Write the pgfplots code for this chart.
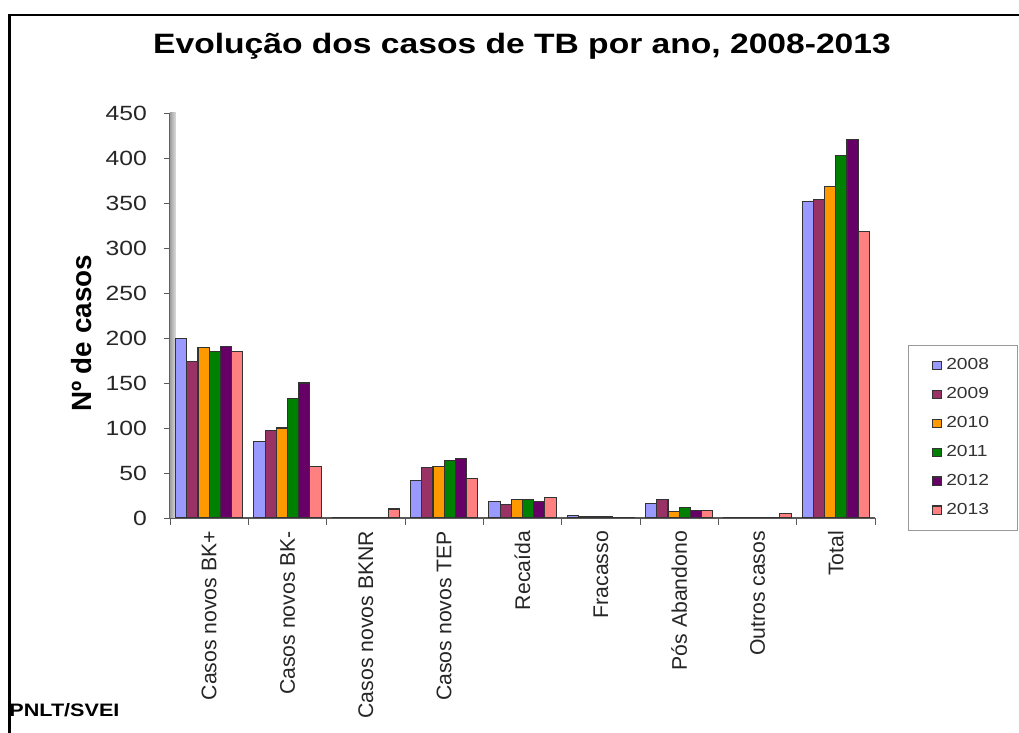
\documentclass[border=0pt]{standalone}
\usepackage{fontspec}
\setmainfont{Liberation Sans}
\newfontfamily\widefont[FakeStretch=1.2]{Liberation Sans}
\usepackage{pgfplots}
\usepackage{pgfplotstable}
\pgfplotsset{compat=1.18}

\definecolor{c08}{HTML}{9999FF}
\definecolor{c09}{HTML}{993366}
\definecolor{c10}{HTML}{FF9900}
\definecolor{c11}{HTML}{008000}
\definecolor{c12}{HTML}{660066}
\definecolor{c13}{HTML}{FF8080}

% x: 0 BK+, 1 BK-, 2 BKNR, 3 TEP, 4 Recaida, 5 Fracasso, 6 Pos Abandono, 7 Outros, 8 Total
\pgfplotstableread{
x  a2008 a2009 a2010 a2011 a2012 a2013
0  199   174   189   185   191   185
1  85    97    100   133   150   57
2  1     1     1     1     1     10
3  42    56    57    64    66    44
4  18    15    21    21    18    23
5  3     2     2     2     1     1
6  16    21    7     12    8     8
7  1     1     1     1     1     5
8  352   354   368   403   421   318
}\casos

\begin{document}
\begin{tikzpicture}
\path[use as bounding box] (0,0) rectangle (509.5pt,366.5pt);
% frame
\draw[line width=1.2pt] (4.75pt,0) -- (4.75pt,358.85pt) -- (509.5pt,358.85pt);
\node[font=\widefont\bfseries\fontsize{14}{16}\selectfont] at (261pt,343.5pt)
  {Evolução dos casos de TB por ano, 2008-2013};
\node[rotate=90, font=\bfseries\fontsize{13.9}{16}\selectfont] at (41pt,199.75pt) {Nº de casos};
\node[anchor=west, inner sep=0pt, font=\widefont\bfseries\fontsize{9}{10}\selectfont] at (4.5pt,11.5pt) {PNLT/SVEI};

\begin{axis}[
    at={(85pt,107.5pt)}, anchor=south west,
    scale only axis,
    width=352.5pt, height=202.5pt,
    ybar=0pt, bar width=5.6pt,
    xmin=-0.5, xmax=8.5, ymin=0, ymax=450,
    ytick={0,50,...,450},
    xtick={0,...,8},
    xticklabels={Casos novos BK+,Casos novos BK-,Casos novos BKNR,Casos novos TEP,Recaída,Fracasso,Pós Abandono,Outros casos,Total},
    minor xtick={-0.5,0.5,...,8.5},
    axis x line=bottom, axis y line=left,
    axis line style={-, draw=black!65, line width=0.6pt},
    tick align=outside,
    major tick length=3pt, minor tick length=3.5pt,
    major x tick style={draw=none},
    minor x tick style={draw=black!65},
    y tick style={draw=black!65},
    /pgf/number format/assume math mode=true,
    yticklabel style={font=\widefont\fontsize{10.3}{12}\selectfont, text=black!85, xshift=-5pt},
    xticklabel style={font=\fontsize{10.6}{13}\selectfont, text=black!85, yshift=0pt, rotate=90, anchor=east},
    every axis plot/.append style={draw=black!80, line width=0.55pt},
    legend image code/.code={\draw[#1] (0pt,-2.2pt) rectangle (4.4pt,2.2pt);},
    legend style={at={(1.0468,0.427)}, anchor=north west, draw=black!40,
        font=\widefont\fontsize{8}{10}\selectfont, text=black!80,
        row sep=3.4pt, inner xsep=12pt, inner ysep=4.5pt,
        cells={anchor=west}},
]
\fill[left color=gray!75, right color=gray!25] (rel axis cs:0,0) rectangle ([xshift=3pt]rel axis cs:0,1);
\addplot[fill=c08] table[x=x,y=a2008] {\casos};
\addplot[fill=c09] table[x=x,y=a2009] {\casos};
\addplot[fill=c10] table[x=x,y=a2010] {\casos};
\addplot[fill=c11] table[x=x,y=a2011] {\casos};
\addplot[fill=c12] table[x=x,y=a2012] {\casos};
\addplot[fill=c13] table[x=x,y=a2013] {\casos};
\legend{2008,2009,2010,2011,2012,2013}
\end{axis}
\end{tikzpicture}
\end{document}
